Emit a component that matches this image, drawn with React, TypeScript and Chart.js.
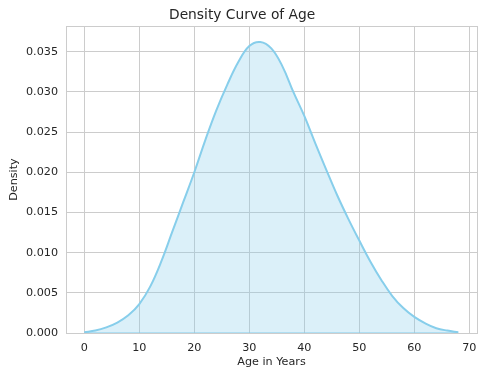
import React, { useEffect, useRef } from "react";
import { Chart, registerables } from "chart.js";

Chart.register(...registerables);

const ages: number[] = [0, 2, 4, 6, 8, 10, 12, 14, 16, 18, 20, 22, 24, 26, 28, 30, 32, 34, 36, 38, 40, 42, 44, 46, 48, 50, 52, 54, 56, 58, 60, 62, 64, 66, 68];
const density: number[] = [
  0.0001, 0.0003, 0.0007, 0.0013, 0.0022, 0.0036, 0.0058, 0.0089, 0.0126, 0.0163,
  0.0200, 0.0240, 0.0277, 0.0309, 0.0337, 0.0357, 0.0362, 0.0354, 0.0332, 0.0300,
  0.0270, 0.0236, 0.0203, 0.0171, 0.0142, 0.0115, 0.0089, 0.0066, 0.0046, 0.0031,
  0.0020, 0.0012, 0.0006, 0.0003, 0.0001,
];
const xTicks: number[] = [0, 10, 20, 30, 40, 50, 60, 70];
const yTicks: number[] = [0, 0.005, 0.01, 0.015, 0.02, 0.025, 0.03, 0.035];

const TEXT = "#262626";
const GRID = "#cccccc";
const FONT = "'DejaVu Sans', sans-serif";

const framePlugin = {
  id: "frame",
  afterDraw(chart: any) {
    const { ctx, chartArea } = chart;
    ctx.save();
    ctx.strokeStyle = GRID;
    ctx.lineWidth = 1;
    ctx.strokeRect(
      Math.round(chartArea.left) + 0.5,
      Math.round(chartArea.top) + 0.5,
      Math.round(chartArea.right - chartArea.left),
      Math.round(chartArea.bottom - chartArea.top)
    );
    ctx.restore();
  },
};

export default function App() {
  const ref = useRef<HTMLCanvasElement | null>(null);
  useEffect(() => {
    if (!ref.current) return;
    const points = ages.map((a, i) => ({ x: a, y: density[i] }));
    const base = [
      { x: ages[0], y: 0 },
      { x: ages[ages.length - 1], y: 0 },
    ];
    const chart = new Chart(ref.current, {
      type: "line",
      data: {
        datasets: [
          {
            data: points,
            borderColor: "#87CEEB",
            borderWidth: 2,
            backgroundColor: "rgba(135,206,235,0.3)",
            fill: "origin",
            pointRadius: 0,
            tension: 0.4,
            clip: false as any,
          },
          {
            data: base,
            borderColor: "rgba(135,206,235,0.7)",
            borderWidth: 1.5,
            pointRadius: 0,
            fill: false,
            clip: false as any,
          },
        ],
      },
      options: {
        responsive: false,
        animation: false,
        layout: { padding: { left: 7.3, right: 9, top: 0, bottom: 9.3 } },
        plugins: {
          legend: { display: false },
          tooltip: { enabled: false },
          title: {
            display: true,
            text: "Density Curve of Age",
            color: TEXT,
            font: { family: FONT, size: 13.8, weight: "normal" },
            padding: { top: 7, bottom: 2.5 },
          },
        },
        scales: {
          x: {
            type: "linear",
            min: -3.33,
            max: 71.4,
            afterBuildTicks: (scale: any) => {
              scale.ticks = xTicks.map((v) => ({ value: v }));
            },
            afterFit: (scale: any) => {
              scale.height = 35.7;
            },
            grid: { color: GRID, drawTicks: false, lineWidth: 1 },
            border: { display: false },
            ticks: {
              color: TEXT,
              font: { family: FONT, size: 11.2 },
              padding: 8,
              maxRotation: 0,
            },
            title: {
              display: true,
              text: "Age in Years",
              color: TEXT,
              font: { family: FONT, size: 11.2 },
              padding: { top: 1, bottom: 0 },
            },
          },
          y: {
            type: "linear",
            min: 0,
            max: 0.03818,
            afterBuildTicks: (scale: any) => {
              scale.ticks = yTicks.map((v) => ({ value: v }));
            },
            afterFit: (scale: any) => {
              scale.width = 58.7;
            },
            grid: { color: GRID, drawTicks: false, lineWidth: 1 },
            border: { display: false },
            ticks: {
              color: TEXT,
              font: { family: FONT, size: 11.2 },
              padding: 8,
              callback: (v: any) => Number(v).toFixed(3),
            },
            title: {
              display: true,
              text: "Density",
              color: TEXT,
              font: { family: FONT, size: 11.2 },
              padding: { top: 0, bottom: 4 },
            },
          },
        },
      },
      plugins: [framePlugin],
    });
    return () => chart.destroy();
  }, []);
  return (
    <div style={{ position: "fixed", left: 0, top: 0, width: 486, height: 378, background: "#fff" }}>
      <canvas ref={ref} width={486} height={378} />
    </div>
  );
}
